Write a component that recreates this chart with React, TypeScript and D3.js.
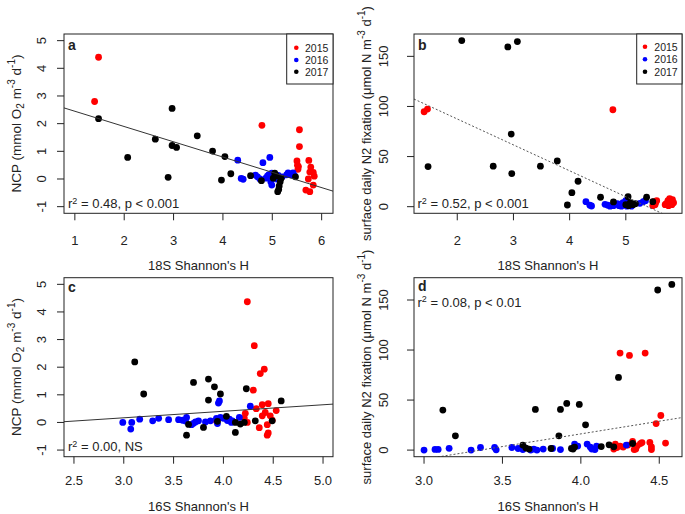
import React from 'react';
import * as d3 from 'd3';

type Pt = [number, number];

const yearLabels = ['2015', '2016', '2017'];
const yearColors = ['#ff0000', '#0000ff', '#000000'];

// Panel a: 18S Shannon's H vs NCP
const a2015: Pt[] = [[1.48,4.4],[1.40,2.8],[4.79,1.94],[5.55,1.78],[5.55,1.17],[5.50,0.65],[5.51,0.5],[5.52,0.35],[5.53,0.45],[5.74,0.67],[5.78,0.43],[5.83,0.24],[5.76,0.25],[5.85,0.1],[5.73,0.0],[5.83,-0.22],[5.68,-0.4],[5.76,-0.46]];
const a2016: Pt[] = [[4.30,0.68],[4.37,0.02],[4.41,-0.01],[4.66,0.14],[4.70,0.08],[4.75,0.0],[4.81,0.59],[4.95,0.78],[4.87,0.03],[4.90,0.1],[4.93,0.16],[4.99,0.21],[4.99,-0.22],[4.97,-0.1],[5.03,0.06],[5.09,0.0],[5.12,0.13],[5.2,0.08],[5.29,0.15],[5.32,0.22],[5.37,0.15],[5.42,0.22],[5.45,0.12]];
const a2017: Pt[] = [[1.48,2.18],[2.07,0.78],[2.63,1.44],[2.89,0.06],[2.97,2.55],[2.97,1.21],[3.06,1.14],[3.48,1.56],[3.79,1.01],[3.97,-0.04],[4.04,0.81],[4.16,0.19],[4.56,0.12],[4.78,-0.06],[5.02,0.03],[5.05,0.21],[5.08,0.12],[5.18,0.03],[5.16,-0.1],[5.14,-0.25],[5.13,-0.38],[5.11,-0.46],[5.47,0.08]];

// Panel b: 18S Shannon's H vs N2 fixation
const b2015: Pt[] = [[1.41,94.7],[1.47,97.4],[4.77,96.7],[5.50,5],[5.52,2],[5.55,6],[5.53,4],[5.48,1],[5.72,3],[5.75,6],[5.78,8],[5.80,5],[5.83,7],[5.85,4],[5.76,1],[5.70,2],[5.82,2],[5.79,4]];
const b2016: Pt[] = [[4.29,5],[4.39,0.7],[4.36,1.5],[4.63,2.4],[4.68,1.5],[4.72,0.5],[4.78,1],[4.85,3],[4.88,1],[4.92,0.5],[4.95,4],[4.98,2],[5.0,6],[5.02,0.5],[5.06,1.5],[5.1,0.5],[5.25,3.4],[5.31,5],[5.35,6]];
const b2017: Pt[] = [[2.08,165.7],[2.90,159.4],[3.07,164.7],[2.96,72.4],[1.48,40],[2.64,40.4],[2.97,33],[3.48,40.4],[3.78,45.7],[4.15,25.4],[4.04,14],[3.96,1.7],[4.55,9.4],[4.78,4.7],[5.04,10],[5.0,2],[5.05,1],[5.1,3],[5.13,2],[5.17,3],[5.08,4],[5.37,9.4],[5.48,5]];

// Panel c: 16S Shannon's H vs NCP
const c2015: Pt[] = [[3.93,0.05],[4.24,4.37],[4.31,2.78],[4.41,1.93],[4.37,1.77],[4.30,1.17],[4.39,0.64],[4.45,0.68],[4.33,0.5],[4.53,0.43],[4.42,0.36],[4.39,0.24],[4.47,0.24],[4.22,0.33],[4.21,0.16],[4.24,0.0],[4.49,0.08],[4.44,-0.08],[4.36,-0.19],[4.45,-0.38],[4.44,-0.46]];
const c2016: Pt[] = [[2.99,0.0],[3.07,-0.24],[3.08,0.0],[3.16,0.12],[3.29,0.06],[3.35,0.15],[3.45,0.1],[3.55,0.1],[3.59,0.08],[3.63,0.18],[3.62,0.05],[3.68,-0.08],[3.70,-0.03],[3.72,0.02],[3.75,0.06],[3.82,0.02],[3.87,0.06],[3.93,0.15],[3.95,0.7],[3.96,0.78],[3.97,0.18],[3.94,-0.04],[4.0,0.15],[4.04,0.07],[4.06,0.12],[4.08,0.0],[4.09,0.06],[4.16,0.18],[4.27,0.59]];
const c2017: Pt[] = [[3.11,2.19],[3.20,1.03],[3.63,-0.46],[3.65,-0.07],[3.70,1.45],[3.80,-0.18],[3.85,1.57],[3.85,0.81],[3.91,1.29],[3.94,0.04],[3.97,1.03],[4.03,0.22],[4.12,-0.36],[4.12,0.0],[4.17,-0.06],[4.21,0.0],[4.23,1.22],[4.32,0.06],[4.49,0.06],[4.58,0.78]];

// Panel d: 16S Shannon's H vs N2 fixation
const d2015: Pt[] = [[4.25,97],[4.31,94.6],[4.41,97],[4.51,34.6],[4.48,26.5],[4.54,7],[4.22,6],[4.23,2.6],[4.21,1],[4.25,4],[4.27,3],[4.30,5],[4.33,8.6],[4.34,0.5],[4.35,1],[4.36,4.3],[4.38,6.5],[4.39,7.5],[4.44,7.6],[4.45,3.3],[4.45,0.5]];
const d2016: Pt[] = [[3.0,0],[3.07,0.7],[3.09,0.7],[3.16,1.8],[3.30,0],[3.36,2.6],[3.45,2.6],[3.46,0.3],[3.56,2.6],[3.60,1.6],[3.63,0.5],[3.64,2.5],[3.68,0],[3.70,1],[3.72,0],[3.76,1],[3.82,1.6],[3.87,0.5],[3.96,6],[3.98,4],[4.04,6],[4.06,3],[4.07,1],[4.09,0.5],[4.10,4],[4.29,5]];
const d2017: Pt[] = [[4.49,160],[4.58,165.6],[4.24,72.6],[3.12,40],[3.71,40.6],[3.87,40.6],[3.91,46.6],[3.99,45.6],[4.03,25.3],[3.20,14.3],[3.86,14.3],[3.63,5],[3.65,2],[3.67,1],[3.81,1.6],[3.94,1.6],[3.95,1.0],[3.96,3],[4.13,3.5],[4.18,5.3],[4.21,3.3],[4.33,6.6]];

// Linear fits [intercept, slope]
const fitA = [3.0, -0.552];
const fitB = [139.2, -25.85];
const fitC = [-0.54, 0.236];
const fitD = [-85.0, 25.3];

const ncpTicks = [-1, 0, 1, 2, 3, 4, 5];
const n2Ticks = [0, 50, 100, 150];
const aTicks = [1, 2, 3, 4, 5, 6];
const bTicks = [2, 3, 4, 5];
const cTicks = [2.5, 3.0, 3.5, 4.0, 4.5, 5.0];
const dTicks = [3.0, 3.5, 4.0, 4.5];

const statA = '0.48, p < 0.001';
const statB = '0.52, p < 0.001';
const statC = '0.00, NS';
const statD = '0.08, p < 0.01';

const FONT = '"Liberation Sans", Arial, Helvetica, sans-serif';
const INK = '#222';

type Box = { x0: number; x1: number; y0: number; y1: number };

function NcpTitle({ x, y }: { x: number; y: number }) {
  return (
    <text transform={`translate(${x},${y}) rotate(-90)`} textAnchor="middle" fontSize={13.5} fill={INK}>
      NCP (mmol O<tspan dy={3} fontSize={10}>2</tspan>
      <tspan dy={-3}> m</tspan>
      <tspan dy={-6} fontSize={10}>-3</tspan>
      <tspan dy={6}> d</tspan>
      <tspan dy={-6} fontSize={10}>-1</tspan>
      <tspan dy={6}>)</tspan>
    </text>
  );
}

function N2Title({ x, y }: { x: number; y: number }) {
  return (
    <text transform={`translate(${x},${y}) rotate(-90)`} textAnchor="middle" fontSize={13} fill={INK}>
      surface daily N2 fixation (μmol N m<tspan dy={-6} fontSize={10}>-3</tspan>
      <tspan dy={6}> d</tspan>
      <tspan dy={-6} fontSize={10}>-1</tspan>
      <tspan dy={6}>)</tspan>
    </text>
  );
}

type PanelProps = {
  id: string;
  box: Box;
  xDomain: [number, number];
  yDomain: [number, number];
  xTicks: number[];
  yTicks: number[];
  xFmt: (v: number) => string;
  groups: Pt[][];
  fit: number[];
  dotted: boolean;
  letter: string;
  letterY: number;
  stat: string;
  statPos: [number, number];
  legend: null | { x0: number; dotX: number; textX: number; rows: number[] };
  yTickX: number;
  yTitle: React.ReactNode;
  xTitle: string;
  xTitleY: number;
  xTickY: number;
};

function Panel(p: PanelProps) {
  const { box } = p;
  const x = d3.scaleLinear().domain(p.xDomain).range([box.x0, box.x1]);
  const y = d3.scaleLinear().domain(p.yDomain).range([box.y1, box.y0]);
  const fitLine = d3
    .line<number>()
    .x((v) => x(v))
    .y((v) => y(p.fit[0] + p.fit[1] * v));
  const cx = (box.x0 + box.x1) / 2;
  return (
    <g>
      <defs>
        <clipPath id={`clip-${p.id}`}>
          <rect x={box.x0} y={box.y0} width={box.x1 - box.x0} height={box.y1 - box.y0} />
        </clipPath>
      </defs>
      <g clipPath={`url(#clip-${p.id})`}>
        {p.groups.map((g, gi) =>
          g.map((d, i) => (
            <circle key={`${gi}-${i}`} cx={x(d[0])} cy={y(d[1])} r={3.4} fill={yearColors[gi]} />
          ))
        )}
        <path
          d={fitLine(p.xDomain) || ''}
          fill="none"
          stroke={p.dotted ? '#555' : '#333'}
          strokeWidth={1}
          strokeDasharray={p.dotted ? '2,2' : undefined}
        />
      </g>
      <rect x={box.x0} y={box.y0} width={box.x1 - box.x0} height={box.y1 - box.y0} fill="none" stroke={INK} strokeWidth={1} />
      {p.xTicks.map((t) => (
        <g key={`xt${t}`}>
          <line x1={x(t)} x2={x(t)} y1={box.y1} y2={box.y1 + 7} stroke={INK} />
          <text x={x(t)} y={p.xTickY} textAnchor="middle" dominantBaseline="central" fontSize={13} fill={INK}>
            {p.xFmt(t)}
          </text>
        </g>
      ))}
      {p.yTicks.map((t) => (
        <g key={`yt${t}`}>
          <line x1={box.x0 - 7} x2={box.x0} y1={y(t)} y2={y(t)} stroke={INK} />
          <text
            transform={`translate(${p.yTickX},${y(t)}) rotate(-90)`}
            textAnchor="middle"
            dominantBaseline="central"
            fontSize={13}
            fill={INK}
          >
            {t}
          </text>
        </g>
      ))}
      <text x={cx} y={p.xTitleY} textAnchor="middle" dominantBaseline="central" fontSize={13} fill={INK}>
        {p.xTitle}
      </text>
      {p.yTitle}
      <text x={box.x0 + 4} y={p.letterY} fontSize={14} fontWeight="bold" fill={INK}>
        {p.letter}
      </text>
      <text x={p.statPos[0]} y={p.statPos[1]} fontSize={13} fill={INK}>
        r<tspan dy={-4.5} fontSize={9}>2</tspan>
        <tspan dy={4.5}> = {p.stat}</tspan>
      </text>
      {p.legend && (
        <g>
          <rect x={p.legend.x0} y={box.y0} width={box.x1 - p.legend.x0} height={50} fill="white" stroke={INK} />
          {yearLabels.map((lab, i) => (
            <g key={lab}>
              <circle cx={p.legend!.dotX} cy={p.legend!.rows[i]} r={2.3} fill={yearColors[i]} />
              <text x={p.legend!.textX} y={p.legend!.rows[i]} dominantBaseline="central" fontSize={10.5} fill={INK}>
                {lab}
              </text>
            </g>
          ))}
        </g>
      )}
    </g>
  );
}

export default function App() {
  const boxA: Box = { x0: 64, x1: 333, y0: 34, y1: 213.3 };
  const boxB: Box = { x0: 414, x1: 682, y0: 34, y1: 213.3 };
  const boxC: Box = { x0: 64, x1: 333, y0: 277.7, y1: 456.7 };
  const boxD: Box = { x0: 414, x1: 682, y0: 277.7, y1: 456.7 };
  const f0 = (v: number) => String(v);
  const f1 = (v: number) => v.toFixed(1);
  return (
    <svg
      width={685}
      height={514}
      viewBox="0 0 685 514"
      style={{ position: 'absolute', left: 0, top: 0, background: 'white', fontFamily: FONT }}
    >
      <rect x={0} y={0} width={685} height={514} fill="white" />
      <Panel
        id="a"
        box={boxA}
        xDomain={[0.78, 6.23]}
        yDomain={[-1.24, 5.24]}
        xTicks={aTicks}
        yTicks={ncpTicks}
        xFmt={f0}
        groups={[a2015, a2016, a2017]}
        fit={fitA}
        dotted={false}
        letter="a"
        letterY={50}
        stat={statA}
        statPos={[68, 208]}
        legend={{ x0: 286.7, dotX: 296.3, textX: 305, rows: [47.7, 60, 71.7] }}
        yTickX={41}
        yTitle={<NcpTitle x={21} y={123.5} />}
        xTitle="18S Shannon's H"
        xTitleY={265}
        xTickY={240}
      />
      <Panel
        id="b"
        box={boxB}
        xDomain={[1.23, 6.0]}
        yDomain={[-6.6, 172.3]}
        xTicks={bTicks}
        yTicks={n2Ticks}
        xFmt={f0}
        groups={[b2015, b2016, b2017]}
        fit={fitB}
        dotted={true}
        letter="b"
        letterY={50}
        stat={statB}
        statPos={[417.5, 208]}
        legend={{ x0: 636.7, dotX: 645, textX: 654.3, rows: [46.7, 59.3, 71.7] }}
        yTickX={383}
        yTitle={<N2Title x={371} y={123.5} />}
        xTitle="18S Shannon's H"
        xTitleY={265}
        xTickY={240}
      />
      <Panel
        id="c"
        box={boxC}
        xDomain={[2.4, 5.1]}
        yDomain={[-1.24, 5.24]}
        xTicks={cTicks}
        yTicks={ncpTicks}
        xFmt={f1}
        groups={[c2015, c2016, c2017]}
        fit={fitC}
        dotted={false}
        letter="c"
        letterY={291.5}
        stat={statC}
        statPos={[68, 451]}
        legend={null}
        yTickX={41}
        yTitle={<NcpTitle x={21} y={367} />}
        xTitle="16S Shannon's H"
        xTitleY={506.5}
        xTickY={480}
      />
      <Panel
        id="d"
        box={boxD}
        xDomain={[2.936, 4.645]}
        yDomain={[-6.6, 172.3]}
        xTicks={dTicks}
        yTicks={n2Ticks}
        xFmt={f1}
        groups={[d2015, d2016, d2017]}
        fit={fitD}
        dotted={true}
        letter="d"
        letterY={290.5}
        stat={statD}
        statPos={[417.5, 306.5]}
        legend={null}
        yTickX={383}
        yTitle={<N2Title x={371} y={367} />}
        xTitle="16S Shannon's H"
        xTitleY={506.5}
        xTickY={480}
      />
    </svg>
  );
}
